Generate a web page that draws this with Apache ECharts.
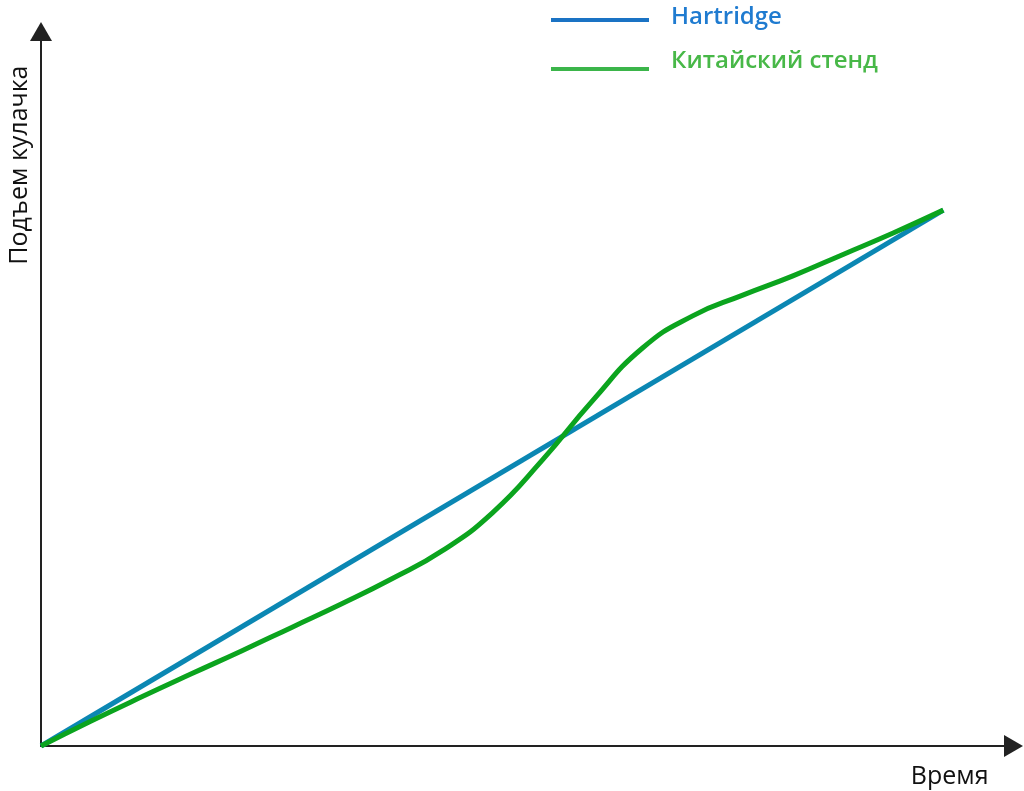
<!DOCTYPE html>
<html>
<head>
<meta charset="utf-8">
<script src="https://cdn.jsdelivr.net/npm/echarts@6/dist/echarts.min.js"></script>
<style>html,body{margin:0;padding:0;background:#fff}#chart{width:1024px;height:791px}</style>
</head>
<body>
<div id="chart"></div>
<script>
const seriesNames = ['Hartridge', 'Китайский стенд'];
const xAxisName = 'Время';
const yAxisName = 'Подъем кулачка';
const hartridgeData = [[0, 0], [90, 75]];
const chinaTime = [0, 5, 10, 15, 20, 25, 30, 35, 40, 45, 50, 55, 60, 65, 70, 75, 80, 85, 90];
const chinaLift = [0, 3.5, 6.85, 10.1, 13.3, 16.6, 19.9, 23.4, 27.3, 32.6, 40.0, 48.3, 55.7, 60.2, 63.1, 65.8, 68.8, 71.8, 75];
const chinaData = chinaTime.map((t, i) => [t, chinaLift[i]]);

const chart = echarts.init(document.getElementById('chart'));
const font = '"Open Sans", "Noto Sans", sans-serif';
chart.setOption({
  animation: false,
  grid: { left: 41, right: 10.5, top: 31.5, bottom: 45 },
  legend: {
    orient: 'vertical', left: 546, top: 0, itemWidth: 98, itemHeight: 4, itemGap: 20,
    icon: 'rect',
    formatter: name => (name === seriesNames[0] ? '{b|' : '{g|') + name + '}',
    textStyle: {
      fontFamily: font, fontSize: 24, fontWeight: 600,
      rich: {
        b: { fontFamily: font, fontSize: 24, fontWeight: 600, color: '#1f7bd0', padding: [0, 0, 6, 17] },
        g: { fontFamily: font, fontSize: 24, fontWeight: 600, color: '#48b848', padding: [0, 0, 16, 17] }
      }
    },
    data: [
      { name: seriesNames[0], itemStyle: { color: '#1a73c4' } },
      { name: seriesNames[1], itemStyle: { color: '#3bb54a' } }
    ]
  },
  xAxis: {
    type: 'value', min: 0, max: 97,
    axisLine: { show: true, symbol: ['none', 'triangle'], symbolSize: [22, 19], lineStyle: { color: '#222', width: 2 } },
    axisTick: { show: false }, axisLabel: { show: false }, splitLine: { show: false },
    name: xAxisName, nameLocation: 'end', nameGap: -25,
    nameTextStyle: { fontFamily: font, fontSize: 25, color: '#111', align: 'right', verticalAlign: 'top', padding: [18, 0, 0, 0] }
  },
  yAxis: {
    type: 'value', min: 0, max: 100,
    axisLine: { show: true, symbol: ['none', 'triangle'], symbolSize: [22, 19], lineStyle: { color: '#222', width: 2 } },
    axisTick: { show: false }, axisLabel: { show: false }, splitLine: { show: false },
    name: yAxisName, nameLocation: 'end', nameGap: -34, nameRotate: 90,
    nameTextStyle: { fontFamily: font, fontSize: 25, color: '#111', align: 'right', verticalAlign: 'bottom', padding: [0, 0, 9, 0] }
  },
  series: [
    { name: seriesNames[0], type: 'line', data: hartridgeData, symbol: 'none', lineStyle: { color: '#0b87b3', width: 5 }, itemStyle: { color: '#0b87b3' }, z: 2 },
    { name: seriesNames[1], type: 'line', data: chinaData, symbol: 'none', smooth: 0.5, lineStyle: { color: '#0ba41e', width: 5 }, itemStyle: { color: '#0ba41e' }, z: 3 }
  ]
});
</script>
</body>
</html>
